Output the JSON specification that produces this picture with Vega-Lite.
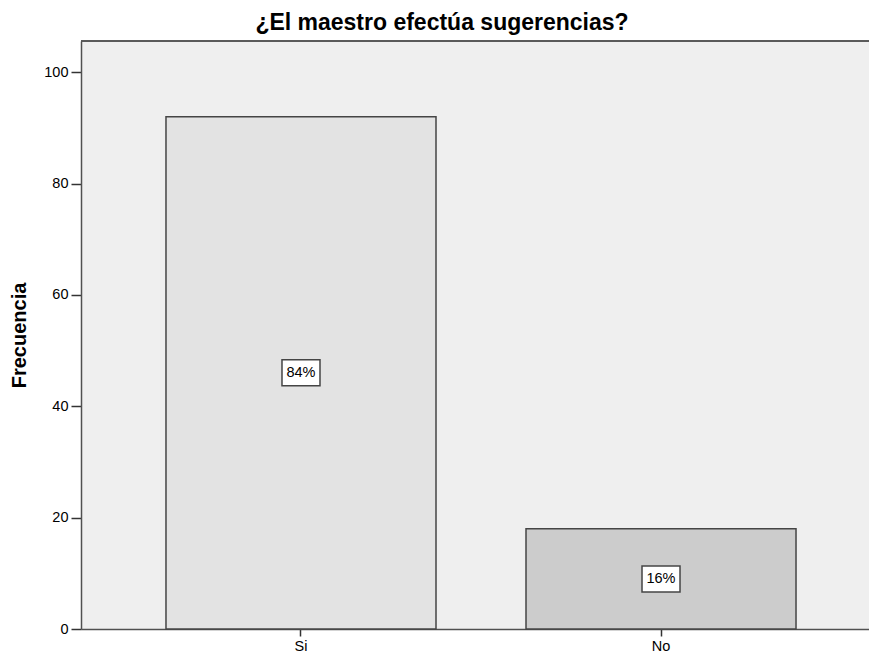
{
  "$schema": "https://vega.github.io/schema/vega-lite/v6.json",
  "width": 788,
  "height": 588,
  "autosize": {"type": "none"},
  "padding": {"left": 81, "top": 41, "right": 0, "bottom": 28},
  "background": "white",
  "config": {
    "font": "Liberation Sans",
    "view": {"fill": "#EFEFEF", "stroke": null}
  },
  "title": {
    "text": "¿El maestro efectúa sugerencias?",
    "fontSize": 23,
    "fontWeight": "bold",
    "color": "#000000",
    "anchor": "middle",
    "dx": -33,
    "offset": 5
  },
  "data": {
    "values": [
      {"respuesta": "Si", "frecuencia": 92, "porcentaje": "84%", "mitad": 46},
      {"respuesta": "No", "frecuencia": 18, "porcentaje": "16%", "mitad": 9}
    ]
  },
  "layer": [
    {
      "mark": {"type": "bar", "stroke": "#454545", "strokeWidth": 1.5},
      "encoding": {
        "x": {
          "field": "respuesta",
          "type": "nominal",
          "sort": ["Si", "No"],
          "scale": {"paddingInner": 0.25, "paddingOuter": 0.2194, "align": 0.538},
          "axis": {
            "title": null,
            "labelAngle": 0,
            "labelFontSize": 14.5,
            "labelColor": "#000000",
            "domain": true,
            "domainColor": "#505050",
            "domainWidth": 1.5,
            "tickColor": "#333333",
            "tickSize": 7,
            "tickWidth": 1.5,
            "labelPadding": 3
          }
        },
        "y": {
          "field": "frecuencia",
          "type": "quantitative",
          "scale": {"domain": [0, 105.6], "nice": false},
          "axis": {
            "title": "Frecuencia",
            "titleFontSize": 20,
            "titleFontWeight": "bold",
            "titleColor": "#000000",
            "titlePadding": 14,
            "values": [0, 20, 40, 60, 80, 100],
            "grid": false,
            "domain": true,
            "domainColor": "#505050",
            "domainWidth": 1.5,
            "labelFontSize": 14.5,
            "labelColor": "#000000",
            "tickColor": "#333333",
            "tickSize": 10,
            "tickWidth": 1.5,
            "labelPadding": 3
          }
        },
        "fill": {
          "field": "respuesta",
          "type": "nominal",
          "scale": {"domain": ["Si", "No"], "range": ["#E3E3E3", "#CCCCCC"]},
          "legend": null
        }
      }
    },
    {
      "mark": {
        "type": "point",
        "shape": "M-1,-0.684H1V0.684H-1Z",
        "size": 1444,
        "filled": true,
        "fill": "#FFFFFF",
        "stroke": "#454545",
        "strokeWidth": 1.5,
        "opacity": 1
      },
      "encoding": {
        "x": {"field": "respuesta", "type": "nominal", "sort": ["Si", "No"]},
        "y": {"field": "mitad", "type": "quantitative"}
      }
    },
    {
      "mark": {"type": "text", "fontSize": 14.5, "color": "#000000", "baseline": "middle", "align": "center"},
      "encoding": {
        "x": {"field": "respuesta", "type": "nominal", "sort": ["Si", "No"]},
        "y": {"field": "mitad", "type": "quantitative"},
        "text": {"field": "porcentaje"}
      }
    },
    {
      "mark": {"type": "rule", "color": "#505050", "strokeWidth": 1.5},
      "encoding": {
        "y": {"datum": 105.6}
      }
    }
  ]
}
